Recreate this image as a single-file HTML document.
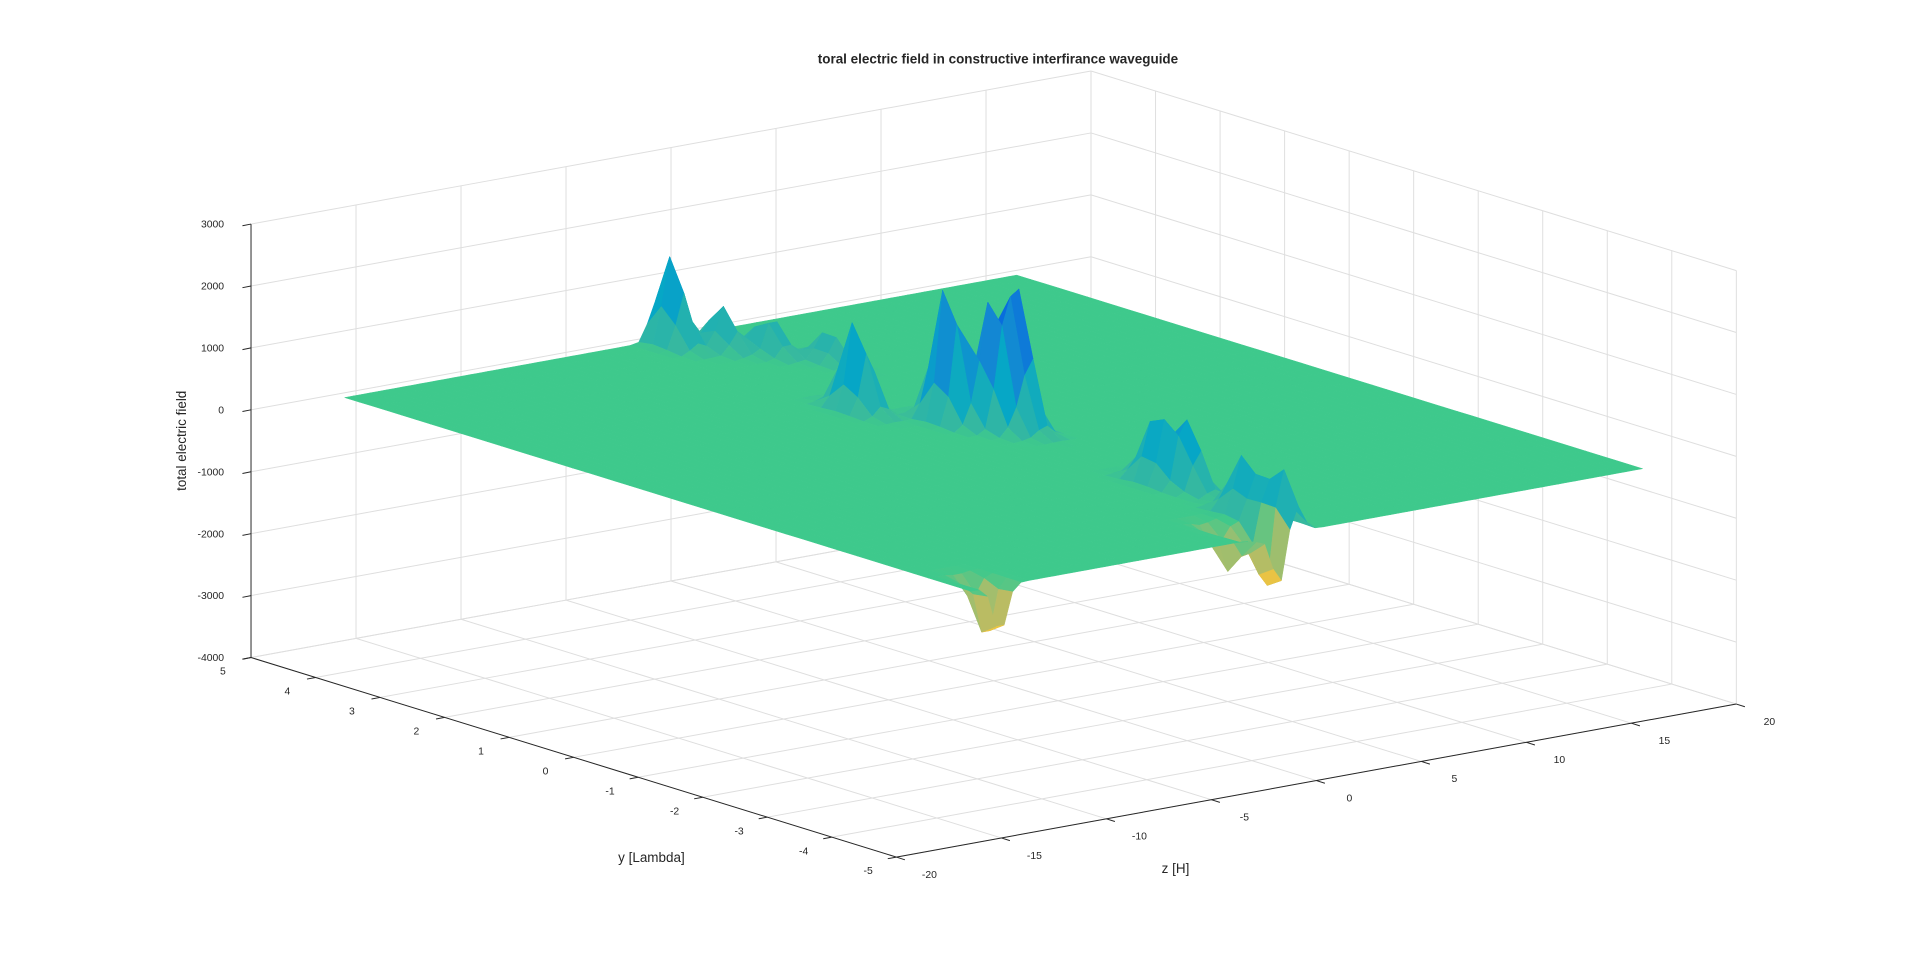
<!DOCTYPE html>
<html><head><meta charset="utf-8"><style>
html,body{margin:0;padding:0;background:#fff;}
svg{display:block;}
text{font-family:"Liberation Sans",sans-serif;fill:#262626;}
</style></head><body>
<svg id="chart" width="1920" height="963" viewBox="0 0 1568 786.5" preserveAspectRatio="none" xmlns="http://www.w3.org/2000/svg">
<g id="grid"></g>
<g id="surf"></g>
<g id="axes"></g>
<text x="815" y="52" text-anchor="middle" font-size="11" font-weight="bold">toral electric field in constructive interfirance waveguide</text>
<text x="532" y="704" text-anchor="middle" font-size="11">y [Lambda]</text>
<text x="960" y="713" text-anchor="middle" font-size="11">z [H]</text>
<text x="152" y="360" text-anchor="middle" font-size="11" transform="rotate(-90 152 360)">total electric field</text>
</svg>
<script>
// data
const zTicks = [-20,-15,-10,-5,0,5,10,15,20];
const yTicks = [5,4,3,2,1,0,-1,-2,-3,-4,-5];
const vTicks = [3000,2000,1000,0,-1000,-2000,-3000,-4000];
const peakZ = [-1.2, 0.0, 1.0, -1.9, -0.3, 1.1, 0.4, 0.0, 0.3, -0.4, -0.5, 2.0, -14.6, -1.3, -2.3];
const peakY = [4.6, 4.2, 3.8, 1.5, 0.6, 0.0, 0.15, -2.5, -2.9, -4.0, -4.6, 3.2, -4.7, -4.7, -4.4];
const peakV = [1450, 700, 650, 1520, 2330, 2300, 2000, 1000, 1100, 950, 1000, 500, -1050, -1100, -700];

const NS='http://www.w3.org/2000/svg';
function P(z,y,v){
  const a=5-y, b=z+20;
  return [205 + a*52.7 + b*17.15, 537 + a*16.3 - b*3.125 - (v+4000)*354/7000];
}
function mk(tag,attrs,parent){const e=document.createElementNS(NS,tag);for(const k in attrs)e.setAttribute(k,attrs[k]);parent.appendChild(e);return e;}
function line(p,q,stroke,w,parent){return mk('line',{x1:p[0],y1:p[1],x2:q[0],y2:q[1],stroke:stroke,'stroke-width':w},parent);}
const grid=document.getElementById('grid'), axes=document.getElementById('axes'), surf=document.getElementById('surf');
const GC='#dedede';
zTicks.forEach(z=>{const l=line(P(z,-5,-4000),P(z,5,-4000),GC,0.8,grid);

});
yTicks.forEach(y=>{const l=line(P(-20,y,-4000),P(20,y,-4000),GC,0.8,grid);

});
zTicks.forEach(z=>{const l=line(P(z,5,-4000),P(z,5,3000),GC,0.8,grid);

});
yTicks.forEach(y=>{const l=line(P(20,y,-4000),P(20,y,3000),GC,0.8,grid);

});
vTicks.forEach(v=>{
  let l=line(P(-20,5,v),P(20,5,v),GC,0.8,grid);
  
  
  l=line(P(20,5,v),P(20,-5,v),GC,0.8,grid);
  
  
});
const AC='#262626';
let al=line(P(-20,5,-4000),P(-20,5,3000),AC,0.8,axes);


al=line(P(-20,5,-4000),P(-20,-5,-4000),AC,0.8,axes);


al=line(P(-20,-5,-4000),P(20,-5,-4000),AC,0.8,axes);


vTicks.forEach(v=>{const p=P(-20,5,v);
  const t=line(p,[p[0]-7,p[1]+1.4],AC,0.8,axes);
  
  
  const tx=mk('text',{x:p[0]-22,y:p[1]+3,'text-anchor':'end','font-size':'8.5'},axes);tx.textContent=v;
  
  });
yTicks.forEach(y=>{const p=P(-20,y,-4000);
  const t=line(p,[p[0]-7,p[1]+1.3],AC,0.8,axes);
  
  
  const tx=mk('text',{x:p[0]-23,y:p[1]+14,'text-anchor':'middle','font-size':'8.5'},axes);tx.textContent=y;
  
  });
zTicks.forEach(z=>{const p=P(z,-5,-4000);
  const t=line(p,[p[0]+7,p[1]+2.2],AC,0.8,axes);
  
  
  const tx=mk('text',{x:p[0]+27,y:p[1]+17,'text-anchor':'middle','font-size':'8.5'},axes);tx.textContent=z;
  
  });
const Z0=-16,Z1=16,Y0=-4.85,Y1=4.85,NZ=80,NY=44;
function H(z,y){let s=0;for(let i=0;i<peakV.length;i++){const dz=(z-peakZ[i])/0.45,dy=(y-peakY[i])/0.28;s+=peakV[i]*Math.exp(-(dz*dz+dy*dy));}return s;}
const stops=[[0,[53,42,135]],[0.125,[3,99,225]],[0.25,[20,133,212]],[0.375,[6,167,198]],[0.5,[56,185,158]],[0.52,[62,201,140]],[0.625,[146,191,115]],[0.75,[217,186,86]],[0.875,[252,206,46]],[1,[249,251,14]]];
function col(v){let t=v>0?0.52-v*0.00019:0.52-v*0.0004;t=Math.max(0,Math.min(1,t));
  for(let i=1;i<stops.length;i++){if(t<=stops[i][0]){const a=stops[i-1],b=stops[i],f=(t-a[0])/(b[0]-a[0]);
  return 'rgb('+a[1].map((c,k)=>Math.round(c+(b[1][k]-c)*f)).join(',')+')';}}return 'rgb(249,251,14)';}
const hv=[];for(let i=0;i<=NZ;i++){hv.push([]);for(let j=0;j<=NY;j++){const z=Z0+(Z1-Z0)*i/NZ,y=Y0+(Y1-Y0)*j/NY;hv[i].push(H(z,y));}}
const quads=[];
for(let i=0;i<NZ;i++)for(let j=0;j<NY;j++){
  const z0=Z0+(Z1-Z0)*i/NZ,z1=Z0+(Z1-Z0)*(i+1)/NZ,y0=Y0+(Y1-Y0)*j/NY,y1=Y0+(Y1-Y0)*(j+1)/NY;
  const zm=(z0+z1)/2,ym=(y0+y1)/2;
  quads.push({d:(ym+5)/10+(zm+20)/40,i:i,j:j,z0,z1,y0,y1});
}
quads.sort((a,b)=>b.d-a.d);
quads.forEach(q=>{const i=q.i,j=q.j;
  const pts=[P(q.z0,q.y0,hv[i][j]),P(q.z1,q.y0,hv[i+1][j]),P(q.z1,q.y1,hv[i+1][j+1]),P(q.z0,q.y1,hv[i][j+1])];
  const v=(hv[i][j]+hv[i+1][j]+hv[i+1][j+1]+hv[i][j+1])/4;
  const c=col(v);
  const p=mk('polygon',{points:pts.map(p=>p[0].toFixed(1)+','+p[1].toFixed(1)).join(' '),fill:c,stroke:c,'stroke-width':0.4},surf);
  
  
});
</script>
</body></html>
